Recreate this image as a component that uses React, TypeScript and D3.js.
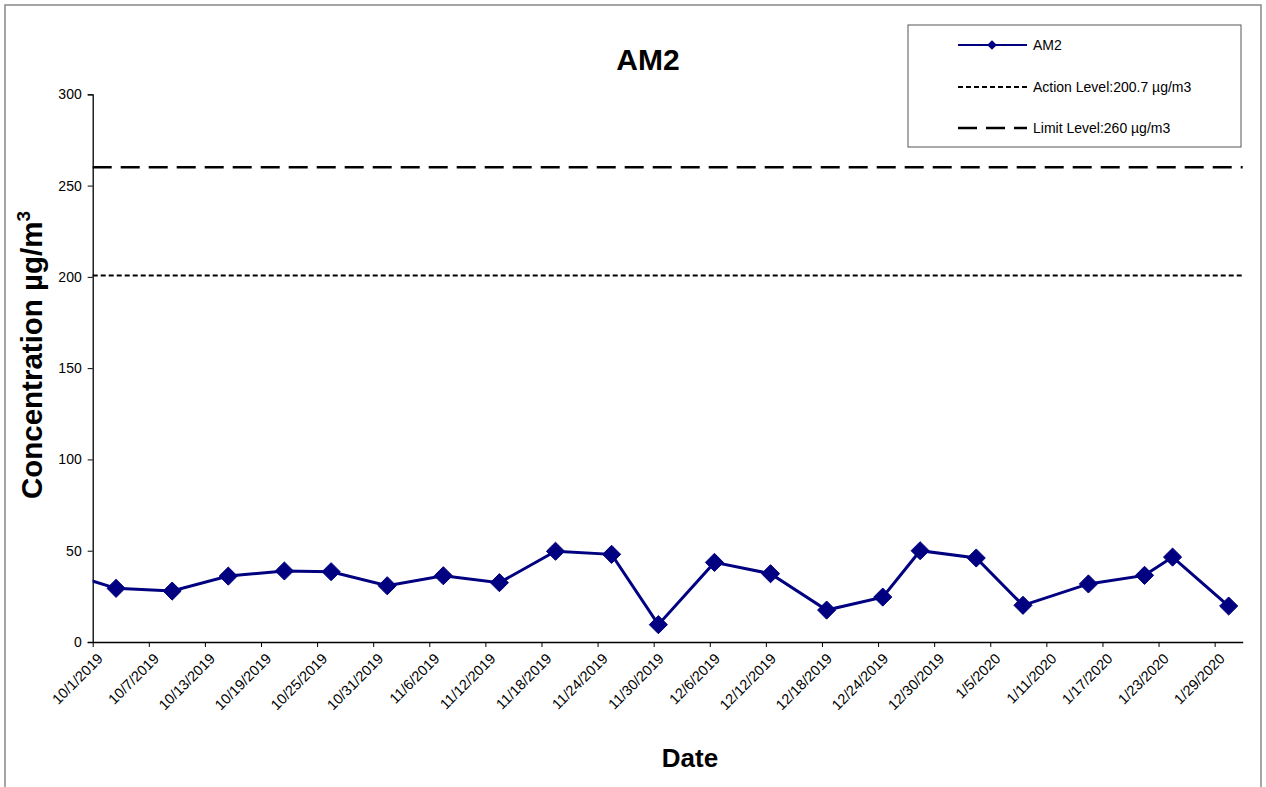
import { useEffect, useRef } from "react";
import * as d3 from "d3";

// sample dates and AM2 concentrations (µg/m3)
const sampleDates = [
  "2019-09-27", "2019-10-03", "2019-10-09", "2019-10-15", "2019-10-21", "2019-10-26",
  "2019-11-01", "2019-11-07", "2019-11-13", "2019-11-19", "2019-11-25", "2019-11-30",
  "2019-12-06", "2019-12-12", "2019-12-18", "2019-12-24", "2019-12-28", "2020-01-03",
  "2020-01-08", "2020-01-15", "2020-01-21", "2020-01-24", "2020-01-30",
];
const am2Values = [
  39, 29.4, 27.9, 36.1, 38.9, 38.5, 30.8, 36.3, 32.5, 49.7, 48.0, 9.5,
  43.6, 37.4, 17.5, 24.6, 50.0, 46.0, 20.1, 31.8, 36.5, 46.5, 19.7,
];
const actionLevel = 200.7;
const limitLevel = 260;
const yTicks = [0, 50, 100, 150, 200, 250, 300];
const legendLabels = ["AM2", "Action Level:200.7 µg/m3", "Limit Level:260 µg/m3"];

const W = 1266, H = 787;
const parse = d3.timeParse("%Y-%m-%d");
const fmt = d3.timeFormat("%-m/%-d/%Y");

const App = () => {
  const svgRef = useRef<SVGSVGElement>(null);

  useEffect(() => {
    const svg = d3.select(svgRef.current);
    svg.selectAll("*").remove();
    const font = "Arial, 'Liberation Sans', sans-serif";

    const start = parse("2019-10-01")!;
    const end = parse("2020-02-01")!;
    const x = d3.scaleTime().domain([start, end]).range([92.7, 1242.7]);
    const y = d3.scaleLinear().domain([0, 300]).range([642, 94.3]);

    // outer frame
    svg.append("rect").attr("x", 5).attr("y", 5).attr("width", 1256).attr("height", 800)
      .attr("fill", "white").attr("stroke", "#888").attr("stroke-width", 1.5);

    svg.append("clipPath").attr("id", "plot-clip").append("rect")
      .attr("x", x.range()[0]).attr("y", y(300) - 10)
      .attr("width", x.range()[1] - x.range()[0]).attr("height", y(0) - y(300) + 20);

    // y axis
    const yAxis = svg.append("g").attr("transform", `translate(${x.range()[0]},0)`)
      .call(d3.axisLeft(y).tickValues(yTicks).tickSize(5).tickPadding(6));
    yAxis.select(".domain").attr("stroke", "#000").attr("stroke-width", 1.3);
    yAxis.selectAll("line").attr("stroke", "#000");
    yAxis.selectAll("text").attr("font-family", font).attr("font-size", 14).attr("fill", "#000");

    // x axis
    const xTicks = d3.timeDay.range(start, d3.timeDay.offset(start, 121), 6);
    const xAxis = svg.append("g").attr("transform", `translate(0,${y(0)})`)
      .call(d3.axisBottom(x).tickValues(xTicks).tickFormat((d) => fmt(d as Date)).tickSize(5).tickSizeOuter(0));
    xAxis.select(".domain").attr("stroke", "#000").attr("stroke-width", 1.3);
    xAxis.selectAll("line").attr("stroke", "#000");
    xAxis.selectAll("text")
      .attr("font-family", font).attr("font-size", 14.5).attr("fill", "#000")
      .attr("text-anchor", "end").attr("dy", "0.35em")
      .attr("transform", "translate(7,14) rotate(-45)")
      .attr("y", 0).attr("x", 0);

    // reference lines
    svg.append("line").attr("x1", x.range()[0]).attr("x2", x.range()[1])
      .attr("y1", y(actionLevel)).attr("y2", y(actionLevel))
      .attr("stroke", "#000").attr("stroke-width", 2).attr("stroke-dasharray", "5,3");
    svg.append("line").attr("x1", x.range()[0]).attr("x2", x.range()[1])
      .attr("y1", y(limitLevel)).attr("y2", y(limitLevel))
      .attr("stroke", "#000").attr("stroke-width", 2.5).attr("stroke-dasharray", "19,9");

    // data series
    const data = sampleDates.map((d, i) => ({ date: d3.timeHour.offset(parse(d)!, 12), value: am2Values[i] }));
    const line = d3.line<{ date: Date; value: number }>().x((d) => x(d.date)).y((d) => y(d.value));
    const g = svg.append("g").attr("clip-path", "url(#plot-clip)");
    g.append("path").datum(data).attr("d", line).attr("fill", "none")
      .attr("stroke", "#000080").attr("stroke-width", 3);
    const diamond = d3.symbol().type(d3.symbolDiamond2).size(210);
    g.selectAll("path.pt").data(data.filter((d) => d.date >= start)).enter().append("path")
      .attr("class", "pt").attr("d", diamond)
      .attr("transform", (d) => `translate(${x(d.date)},${y(d.value)})`)
      .attr("fill", "#000080").attr("stroke", "#000080").attr("stroke-width", 1);

    // title and axis titles
    svg.append("text").attr("x", 648).attr("y", 70).attr("text-anchor", "middle")
      .attr("font-family", font).attr("font-weight", "bold").attr("font-size", 30).text("AM2");
    svg.append("text").attr("x", 690).attr("y", 767).attr("text-anchor", "middle")
      .attr("font-family", font).attr("font-weight", "bold").attr("font-size", 26).text("Date");
    const yl = svg.append("text").attr("transform", "translate(42,355) rotate(-90)")
      .attr("text-anchor", "middle").attr("font-family", font).attr("font-weight", "bold").attr("font-size", 29.5);
    yl.append("tspan").text("Concentration µg/m");
    yl.append("tspan").attr("font-size", 19).attr("dy", -12).text("3");

    // legend
    const lg = svg.append("g");
    lg.append("rect").attr("x", 908).attr("y", 25).attr("width", 333).attr("height", 122)
      .attr("fill", "white").attr("stroke", "#555").attr("stroke-width", 1);
    const rows = [45, 87, 128];
    lg.append("line").attr("x1", 958).attr("x2", 1027).attr("y1", rows[0]).attr("y2", rows[0])
      .attr("stroke", "#000080").attr("stroke-width", 2);
    lg.append("path").attr("d", d3.symbol().type(d3.symbolDiamond2).size(60))
      .attr("transform", `translate(992,${rows[0]})`).attr("fill", "#000080");
    lg.append("line").attr("x1", 958).attr("x2", 1027).attr("y1", rows[1]).attr("y2", rows[1])
      .attr("stroke", "#000").attr("stroke-width", 2).attr("stroke-dasharray", "5,3");
    lg.append("line").attr("x1", 958).attr("x2", 1027).attr("y1", rows[2]).attr("y2", rows[2])
      .attr("stroke", "#000").attr("stroke-width", 2.5).attr("stroke-dasharray", "19,9");
    lg.selectAll("text.lbl").data(legendLabels).enter().append("text").attr("class", "lbl")
      .attr("x", 1033).attr("y", (_, i) => rows[i]).attr("dy", "0.35em")
      .attr("font-family", font).attr("font-size", 14).text((d) => d);
  }, []);

  return (
    <svg ref={svgRef} width={W} height={H} style={{ position: "absolute", left: 0, top: 0, background: "white" }} />
  );
};

export default App;
